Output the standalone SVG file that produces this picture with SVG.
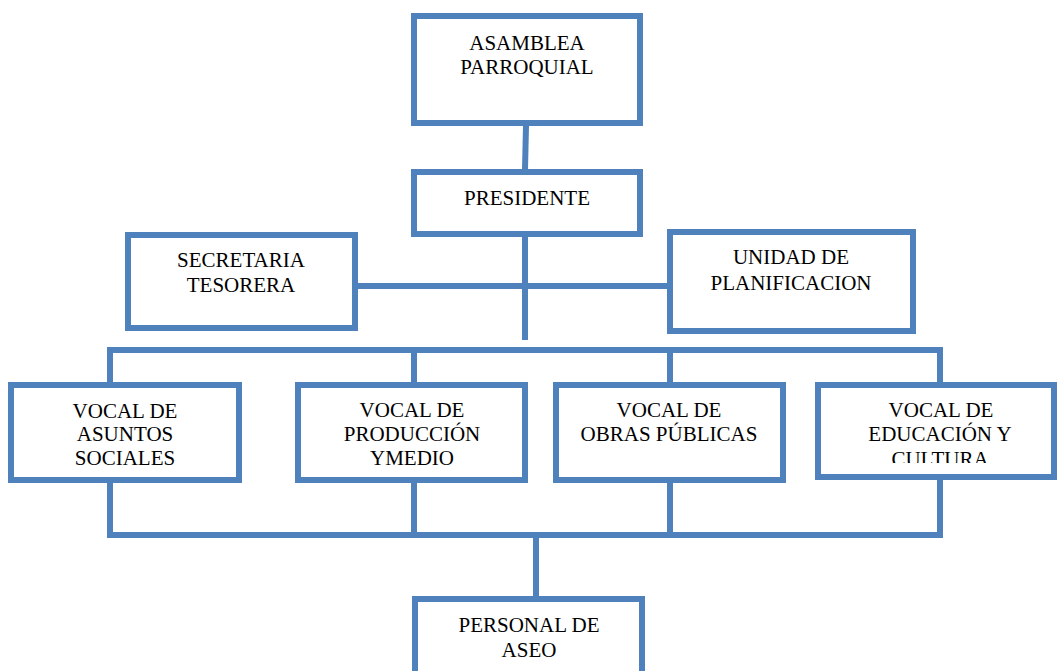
<svg xmlns="http://www.w3.org/2000/svg" width="1057" height="671" viewBox="0 0 1057 671">
<style>
.box{fill:#fff;stroke:#4F81BD;stroke-width:6}
.c{fill:none;stroke:#4F81BD;stroke-width:6;stroke-linejoin:miter}
text{font-family:'Liberation Serif','Times New Roman','DejaVu Serif',serif;font-size:21px;fill:#000;text-anchor:middle}
</style>
<defs>
<clipPath id="clip4"><rect x="820" y="388" width="232" height="75"/></clipPath>
</defs>
<rect width="1057" height="671" fill="#fff"/>
<g id="connectors">
<line class="c" x1="526" y1="126" x2="525" y2="169"/>
<line class="c" x1="525" y1="237" x2="525" y2="340"/>
<line class="c" x1="358" y1="286" x2="667" y2="286"/>
<polyline class="c" points="110,382 110,350 940,350 940,382"/>
<line class="c" x1="414" y1="350" x2="414" y2="382"/>
<line class="c" x1="670" y1="350" x2="670" y2="382"/>
<polyline class="c" points="110,483 110,535 940,535 940,480"/>
<line class="c" x1="414" y1="483" x2="414" y2="535"/>
<line class="c" x1="670" y1="483" x2="670" y2="535"/>
<line class="c" x1="536" y1="535" x2="536" y2="596"/>
</g>
<g id="asamblea" font-family="Liberation Serif, serif">
<rect class="box" x="414" y="16" width="226" height="107"/>
<text x="527" y="50">ASAMBLEA</text>
<text x="527" y="74">PARROQUIAL</text>
</g>
<g id="presidente">
<rect class="box" x="414" y="172" width="226" height="62"/>
<text x="527" y="205">PRESIDENTE</text>
</g>
<g id="secretaria">
<rect class="box" x="128" y="235" width="227" height="93"/>
<text x="241" y="267">SECRETARIA</text>
<text x="241" y="292">TESORERA</text>
</g>
<g id="unidad">
<rect class="box" x="670" y="232" width="243" height="99"/>
<text x="791" y="264">UNIDAD DE</text>
<text x="791" y="290">PLANIFICACION</text>
</g>
<g id="vocal-sociales">
<rect class="box" x="11" y="385" width="228" height="95"/>
<text x="125" y="418">VOCAL DE</text>
<text x="125" y="441">ASUNTOS</text>
<text x="125" y="465">SOCIALES</text>
</g>
<g id="vocal-produccion">
<rect class="box" x="298" y="385" width="227" height="95"/>
<text x="412" y="417">VOCAL DE</text>
<text x="412" y="441">PRODUCCIÓN</text>
<text x="412" y="465">YMEDIO</text>
</g>
<g id="vocal-obras">
<rect class="box" x="556" y="385" width="227" height="95"/>
<text x="669" y="417">VOCAL DE</text>
<text x="669" y="441">OBRAS PÚBLICAS</text>
</g>
<g id="vocal-educacion">
<rect class="box" x="818" y="385" width="236" height="92"/>
<text x="941" y="417">VOCAL DE</text>
<text x="940" y="441">EDUCACIÓN Y</text>
<text x="940" y="466" clip-path="url(#clip4)">CULTURA</text>
</g>
<g id="personal">
<rect class="box" x="415" y="599" width="227" height="100"/>
<text x="529" y="632">PERSONAL DE</text>
<text x="529" y="657">ASEO</text>
</g>
</svg>
